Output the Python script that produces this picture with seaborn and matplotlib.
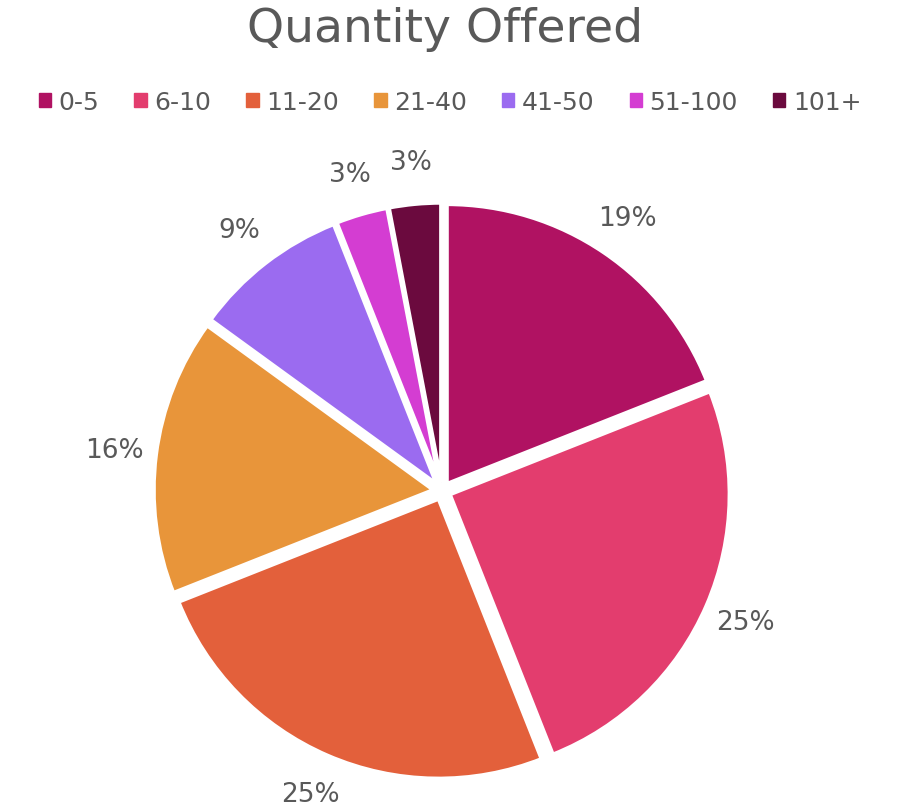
import matplotlib.pyplot as plt
import matplotlib.patches as mpatches
import seaborn as sns

# Data
CATEGORIES = ["0-5", "6-10", "11-20", "21-40", "41-50", "51-100", "101+"]
SHARES = [19, 25, 25, 16, 9, 3, 3]
COLORS = ["#B01262", "#E33D6E", "#E3603B", "#E8953A", "#9B6BF0", "#D43DD2", "#6B0A3E"]
TITLE = "Quantity Offered"
# Output
PATH_PLOT = "out.png"

TEXT_COLOR = "#595959"


def main():
    sns.set_theme(style="white")
    plt.rcParams["font.family"] = ["DejaVu Sans"]

    fig = plt.figure(figsize=(9, 8.12), dpi=100)
    ax = fig.add_axes([0, 0, 1, 1])

    # pie, clockwise from 12 o'clock, every slice pulled out a little
    wedges, texts, autotexts = ax.pie(
        SHARES,
        colors=COLORS,
        startangle=90,
        counterclock=False,
        explode=[0.03] * len(SHARES),
        autopct=lambda p: f"{p:.0f}%",
        pctdistance=1.15,
        wedgeprops=dict(edgecolor="white", linewidth=3),
        textprops=dict(color=TEXT_COLOR, fontsize=19),
    )

    # place the pie: centre at ~(442, 494) px, radius ~280 px
    ax.set_xlim(-442 / 280, (900 - 442) / 280)
    ax.set_ylim(-320 / 280, (812 - 320) / 280)
    ax.set_aspect("auto")
    ax.axis("off")

    fig.text(0.495, 1 - 30 / 812, TITLE, ha="center", va="center",
             fontsize=34, color=TEXT_COLOR)

    handles = [mpatches.Rectangle((0, 0), 1, 1, color=c) for c in COLORS]
    fig.legend(handles, CATEGORIES, loc="center", bbox_to_anchor=(0.5, 1 - 103 / 812),
               ncol=len(CATEGORIES), frameon=False, fontsize=18, labelcolor=TEXT_COLOR,
               handlelength=0.5, handleheight=0.5, handletextpad=0.3, columnspacing=1.4)

    fig.savefig(PATH_PLOT, dpi=100)


if __name__ == '__main__':
    main()
